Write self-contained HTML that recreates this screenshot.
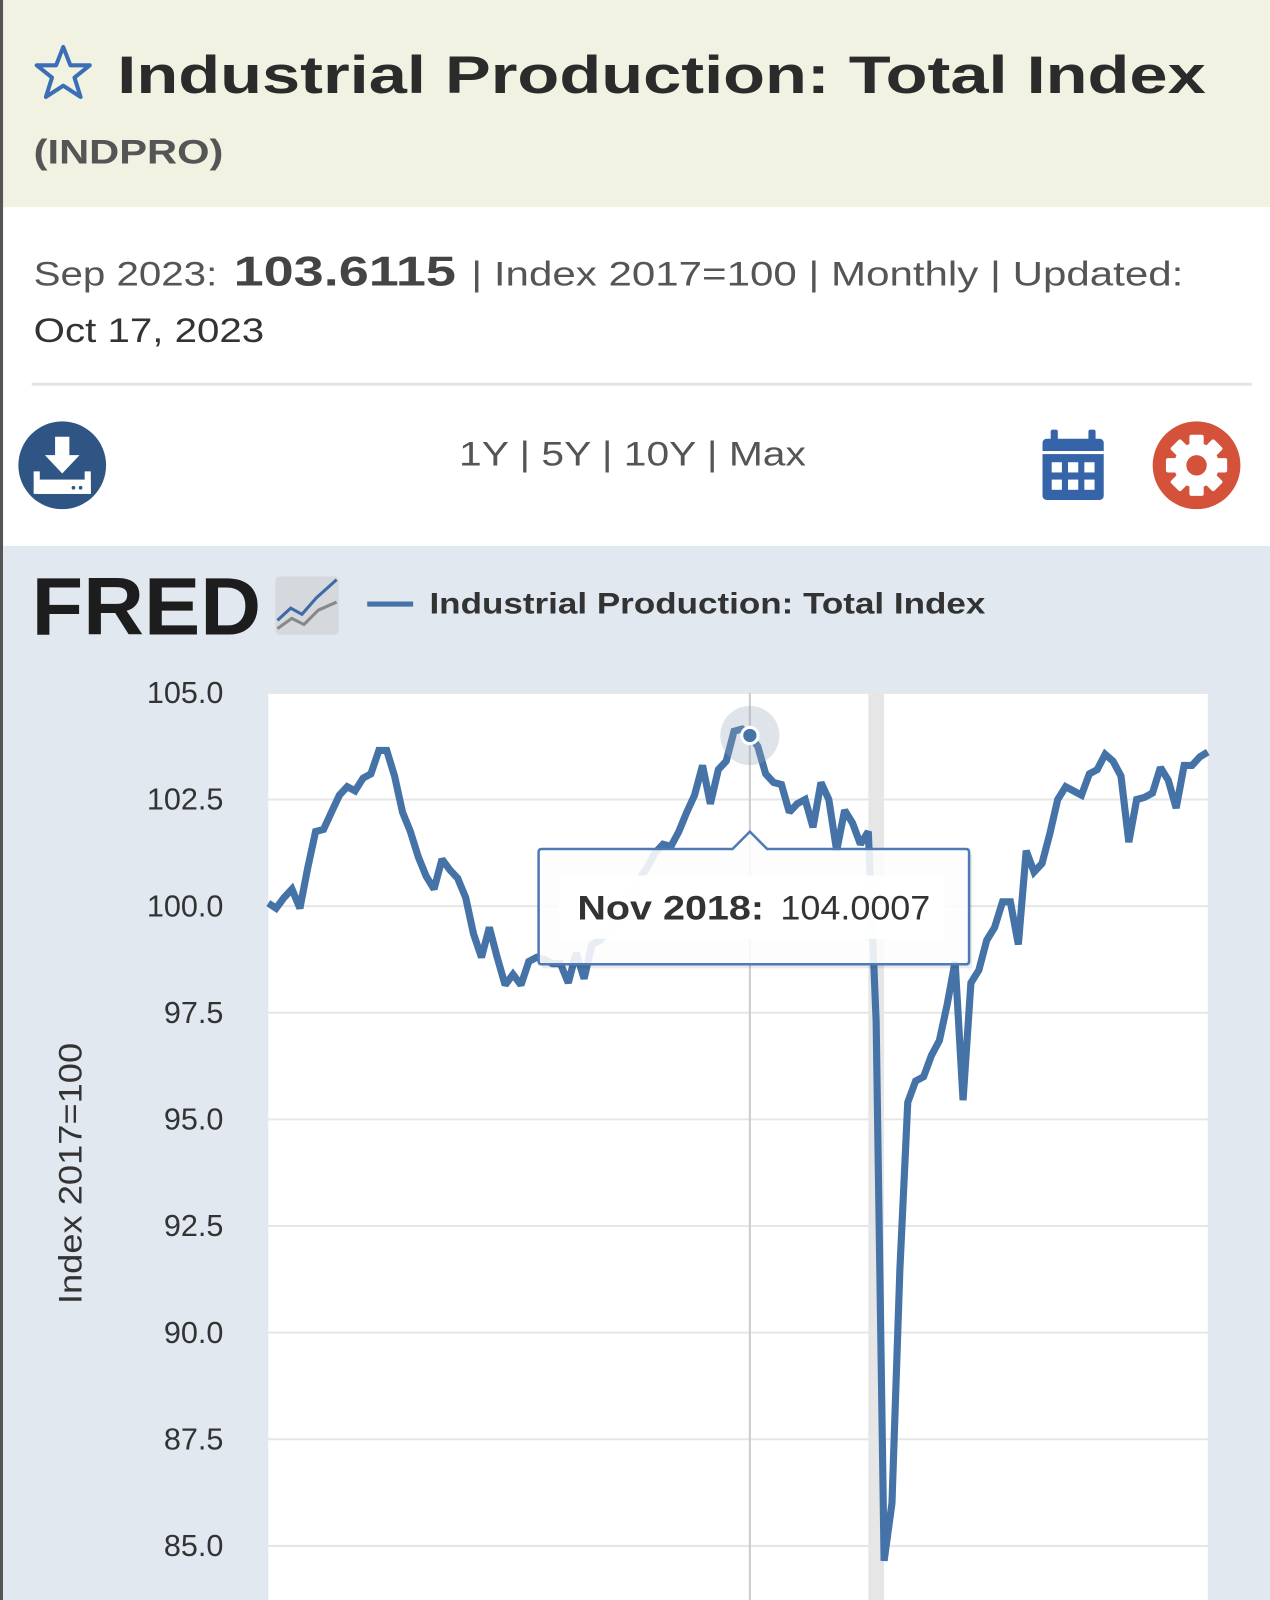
<!DOCTYPE html>
<html><head><meta charset="utf-8">
<style>
html,body{margin:0;padding:0;background:#fff;}
svg{display:block;}
text{font-family:"Liberation Sans",sans-serif;}
</style></head>
<body>
<svg id="root" width="1270" height="1600" viewBox="0 0 1245 1568" preserveAspectRatio="none" xmlns="http://www.w3.org/2000/svg">
  <rect x="0" y="0" width="1245" height="1568" fill="#ffffff"/>
  <g>
    <rect x="0" y="0" width="1245" height="203" fill="#f1f2e1"/>
    <polygon points="62,46 69,64 88,64 73,76 79,95 62,84 45,95 51,76 36,64 55,64" fill="none" stroke="#3b6eb5" stroke-width="4" stroke-linejoin="round"/>
    <text x="115" y="91" font-size="52" font-weight="bold" fill="#2b2b2b" textLength="1067" lengthAdjust="spacingAndGlyphs">Industrial Production: Total Index</text>
    <text x="33" y="160" font-size="34" font-weight="bold" fill="#555" textLength="186" lengthAdjust="spacingAndGlyphs">(INDPRO)</text>
  </g>
  <rect x="0" y="0" width="3" height="1568" fill="#555"/>
  <g>
    <text x="33" y="280" font-size="34" fill="#555" textLength="180" lengthAdjust="spacingAndGlyphs">Sep 2023:</text>
    <text x="229" y="280" font-size="41" font-weight="bold" fill="#444" textLength="218" lengthAdjust="spacingAndGlyphs">103.6115</text>
    <text x="462" y="280" font-size="34" fill="#555" textLength="698" lengthAdjust="spacingAndGlyphs">| Index 2017=100 | Monthly | Updated:</text>
    <text x="33" y="335" font-size="34" fill="#333" textLength="226" lengthAdjust="spacingAndGlyphs">Oct 17, 2023</text>
  </g>
  <rect x="31" y="375" width="1196" height="3" fill="#e3e3e3"/>
  <g>
    <circle cx="61" cy="456" r="43" fill="#2f5584"/>
    <rect x="54" y="428" width="14" height="20" fill="#fff"/>
    <polygon points="44,446 78,446 61,464" fill="#fff"/>
    <path d="M33 462 L33 484 L89 484 L89 462 L83 462 L83 478 L39 478 L39 462 Z" fill="#fff"/>
    <rect x="35" y="470" width="54" height="14" fill="#fff"/>
    <circle cx="72" cy="478" r="1.8" fill="#2f5584"/><circle cx="79" cy="478" r="1.8" fill="#2f5584"/>
  </g>
  <text x="450" y="456" font-size="34" fill="#555" textLength="340" lengthAdjust="spacingAndGlyphs">1Y | 5Y | 10Y | Max</text>
  <g>
    <rect x="1022" y="430" width="60" height="60" rx="4" fill="#3565a8"/>
    <rect x="1030" y="421" width="7" height="14" rx="2" fill="#3565a8"/>
    <rect x="1067" y="421" width="7" height="14" rx="2" fill="#3565a8"/>
    <rect x="1022" y="442" width="60" height="3" fill="#fff"/>
    <rect x="1031" y="453" width="10" height="10" fill="#fff"/><rect x="1047" y="453" width="10" height="10" fill="#fff"/><rect x="1063" y="453" width="10" height="10" fill="#fff"/>
    <rect x="1031" y="470" width="10" height="10" fill="#fff"/><rect x="1047" y="470" width="10" height="10" fill="#fff"/><rect x="1063" y="470" width="10" height="10" fill="#fff"/>
  </g>
  <g>
    <circle cx="1173" cy="456" r="43" fill="#d4513a"/>
    <g fill="#fff">
      <circle cx="1173" cy="456" r="22"/>
      <rect x="1166" y="426" width="14" height="60" rx="2"/>
      <rect x="1143" y="449" width="60" height="14" rx="2"/>
      <rect x="1166" y="426" width="14" height="60" rx="2" transform="rotate(45 1173 456)"/>
      <rect x="1166" y="426" width="14" height="60" rx="2" transform="rotate(-45 1173 456)"/>
    </g>
    <circle cx="1173" cy="456" r="10" fill="#d4513a"/>
  </g>
  <g>
    <rect x="3" y="535" width="1242" height="1033" fill="#e1e8f0"/>
    <text x="31" y="622" font-size="80" font-weight="bold" fill="#1d1d1d" textLength="225" lengthAdjust="spacingAndGlyphs">FRED</text>
    <g>
      <rect x="270" y="565" width="62" height="57" rx="4" fill="#d5d8dc"/>
      <polyline points="272,608 285,596 296,602 310,586 330,568" fill="none" stroke="#3e6aa6" stroke-width="3"/>
      <polyline points="272,616 286,606 298,612 312,598 330,590" fill="none" stroke="#888" stroke-width="3"/>
    </g>
    <line x1="360" y1="592" x2="405" y2="592" stroke="#4572a7" stroke-width="5"/>
    <text x="421" y="601" font-size="29" font-weight="bold" fill="#333" textLength="545" lengthAdjust="spacingAndGlyphs">Industrial Production: Total Index</text>
    <rect x="263" y="679" width="921" height="889" fill="#ffffff"/>
    <g id="grid"></g>
    <g id="ylabels"></g>
    <text x="0" y="0" font-size="32" fill="#333" text-anchor="middle" transform="translate(80,1150) rotate(-90)" textLength="256" lengthAdjust="spacingAndGlyphs">Index 2017=100</text>
    <g id="shade"></g>
    <line id="cross" x1="737" y1="679" x2="737" y2="1568" stroke="#cccccc" stroke-width="2"/>
    <g id="series"></g>
    <g id="hover"></g>
    <g id="tooltip"></g>
  </g>
</svg>
<script>
const categories = [];
(function(){ for (let i = 0; i < 120; i++) { const m = (9 + i) % 12; const y = 2013 + Math.floor((9 + i) / 12); categories.push(y + '-' + String(m + 1).padStart(2, '0')); } })();
const values = [100.07,99.95,100.2,100.4,99.95,100.9,101.75,101.8,102.2,102.6,102.8,102.7,103.0,103.1,103.65,103.65,103.05,102.2,101.75,101.15,100.7,100.4,101.1,100.85,100.65,100.2,99.35,98.8,99.5,98.8,98.15,98.4,98.15,98.7,98.8,98.75,98.65,98.65,98.2,98.9,98.3,99.1,99.2,99.4,99.6,99.95,100.4,100.65,100.9,101.25,101.45,101.4,101.75,102.2,102.6,103.3,102.4,103.2,103.4,104.1,104.15,104.0007,103.75,103.1,102.9,102.85,102.2,102.4,102.5,101.85,102.9,102.5,101.3,102.25,101.95,101.45,101.75,97.3,84.65,86.0,91.5,95.4,95.9,96.0,96.5,96.85,97.7,98.7,95.45,98.2,98.5,99.2,99.5,100.1,100.1,99.1,101.3,100.8,101.0,101.7,102.5,102.8,102.7,102.6,103.1,103.2,103.56,103.4,103.05,101.5,102.5,102.55,102.65,103.25,102.95,102.3,103.3,103.3,103.5,103.6115];
const yTicks = [105, 102.5, 100, 97.5, 95, 92.5, 90, 87.5, 85];
const yTickLabels = ['105.0','102.5','100.0','97.5','95.0','92.5','90.0','87.5','85.0'];
const recessionStart = '2020-02';
const recessionEnd = '2020-04';
const hoverCategory = '2018-11';
const hoverLabel = 'Nov 2018:';
const hoverValueText = '104.0007';

const NS = 'http://www.w3.org/2000/svg';
const PL = 263, PR = 1184, PT = 679;
function xScale(i){ return PL + (PR - PL) * i / (categories.length - 1); }
function yScale(v){ return PT + (105 - v) * 41.8; }
function mk(tag, attrs, parent){ const e = document.createElementNS(NS, tag); for (const k in attrs) e.setAttribute(k, attrs[k]); parent.appendChild(e); return e; }

const grid = document.getElementById('grid');
const yl = document.getElementById('ylabels');
yTicks.forEach((t, i) => {
  const y = yScale(t);
  const g = mk('line', {x1: PL, x2: PR, y1: y, y2: y, stroke: '#e6e6e6', 'stroke-width': 2}, grid);
  
  
  const lb = mk('text', {x: 219, y: y + 10, 'font-size': 30, fill: '#333', 'text-anchor': 'end'}, yl);
  lb.textContent = yTickLabels[i];
  
  
});

const s0 = categories.indexOf(recessionStart), s1 = categories.indexOf(recessionEnd);
const sh = mk('rect', {x: xScale(s0), y: PT, width: xScale(s1) - xScale(s0), height: 1568 - PT, fill: '#e6e6e6'}, document.getElementById('shade'));



const pts = values.map((v, i) => xScale(i).toFixed(1) + ',' + yScale(v).toFixed(1)).join(' ');
const line = mk('polyline', {points: pts, fill: 'none', stroke: '#4573a7', 'stroke-width': 7, 'stroke-linejoin': 'miter', 'stroke-miterlimit': 2}, document.getElementById('series'));



const hi = categories.indexOf(hoverCategory);
const hx = xScale(hi), hy = yScale(values[hi]);
document.getElementById('cross').setAttribute('x1', hx);
document.getElementById('cross').setAttribute('x2', hx);
const hv = document.getElementById('hover');
const halo = mk('circle', {cx: hx, cy: hy, r: 29, fill: 'rgba(150,165,185,0.3)'}, hv);


const dot = mk('circle', {cx: hx, cy: hy, r: 8, fill: '#4573a7', stroke: '#fff', 'stroke-width': 3}, hv);



const tt = document.getElementById('tooltip');
const bx = 528, by = 832, bw = 422, bh = 113;
const path = `M${bx+3} ${by} L${hx-17} ${by} L${hx} ${by-17} L${hx+17} ${by} L${bx+bw-3} ${by} Q${bx+bw} ${by} ${bx+bw} ${by+3} L${bx+bw} ${by+bh-3} Q${bx+bw} ${by+bh} ${bx+bw-3} ${by+bh} L${bx+3} ${by+bh} Q${bx} ${by+bh} ${bx} ${by+bh-3} L${bx} ${by+3} Q${bx} ${by} ${bx+3} ${by} Z`;
mk('path', {d: path, fill: 'rgba(0,0,0,0.08)', transform: 'translate(3,4)'}, tt);
mk('path', {d: path, fill: 'rgba(255,255,255,0.88)', stroke: '#4f7ab3', 'stroke-width': 2.5}, tt);
mk('rect', {x: 548, y: 858, width: 378, height: 62, fill: 'rgba(255,255,255,0.92)'}, tt);
const t1 = mk('text', {x: 566, y: 901, 'font-size': 34, 'font-weight': 'bold', fill: '#333', textLength: 183, lengthAdjust: 'spacingAndGlyphs'}, tt);
t1.textContent = hoverLabel;


const t2 = mk('text', {x: 765, y: 901, 'font-size': 34, fill: '#333', textLength: 147, lengthAdjust: 'spacingAndGlyphs'}, tt);
t2.textContent = hoverValueText;


</script>
</body></html>
